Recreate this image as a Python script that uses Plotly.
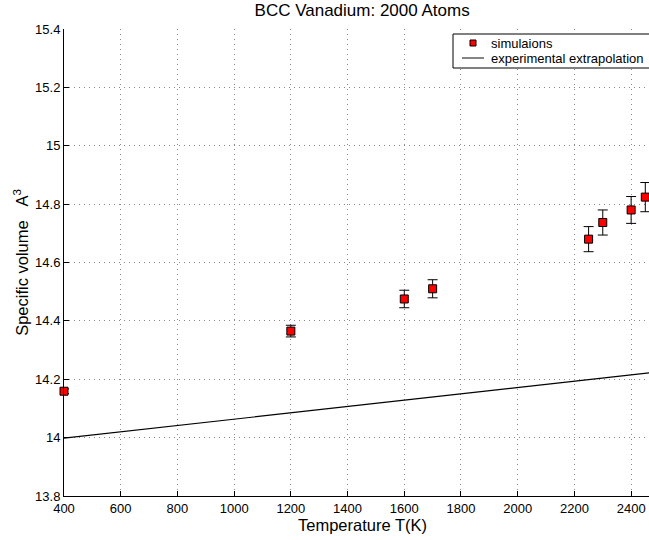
import plotly.graph_objects as go

# Simulated specific volume of BCC vanadium (2000 atoms) vs temperature
sim_T = [400, 1200, 1600, 1700, 2250, 2300, 2400, 2450]
sim_V = [14.159, 14.365, 14.475, 14.510, 14.680, 14.737, 14.780, 14.824]
sim_err = [0.008, 0.020, 0.030, 0.031, 0.043, 0.043, 0.046, 0.050]

# Experimental extrapolation (linear)
exp_T = [400, 2600]
exp_V = [13.998, 14.237]

x_ticks = [400, 600, 800, 1000, 1200, 1400, 1600, 1800, 2000, 2200, 2400]
y_ticks = [13.8, 14.0, 14.2, 14.4, 14.6, 14.8, 15.0, 15.2, 15.4]
y_ticktext = ["13.8", "14", "14.2", "14.4", "14.6", "14.8", "15", "15.2", "15.4"]

SIM_NAME = "simulaions"
EXP_NAME = "experimental extrapolation"

FONT = "Liberation Sans, Arial, Helvetica, sans-serif"
W, H = 649, 540
ML, MR, MT, MB = 64, 0, 29, 44
PW, PH = W - ML - MR, H - MT - MB


def px(xp):
    return (xp - ML) / PW


def py(yp):
    return (H - MB - yp) / PH


fig = go.Figure()

fig.add_trace(go.Scatter(
    x=sim_T, y=sim_V, mode="markers", name=SIM_NAME,
    marker=dict(symbol="square", size=8, color="#ff0000",
                line=dict(color="black", width=1)),
    error_y=dict(type="data", array=sim_err, visible=True,
                 color="black", thickness=1, width=5),
    cliponaxis=False,
))

fig.add_trace(go.Scatter(
    x=exp_T, y=exp_V, mode="lines", name=EXP_NAME,
    line=dict(color="black", width=1.2),
))

# Compact boxed legend in the upper right corner
shapes = [
    dict(type="rect", xref="paper", yref="paper",
         x0=px(453), x1=px(652), y0=py(68), y1=py(34),
         fillcolor="white", line=dict(color="black", width=1)),
    dict(type="rect", xref="paper", yref="paper",
         x0=px(470), x1=px(476), y0=py(46), y1=py(40),
         fillcolor="#ff0000", line=dict(color="black", width=1)),
    dict(type="line", xref="paper", yref="paper",
         x0=px(462), x1=px(484), y0=py(58), y1=py(58),
         line=dict(color="#333333", width=1.2)),
]
annotations = [
    dict(text=SIM_NAME, xref="paper", yref="paper", x=px(489), y=py(43),
         xanchor="left", yanchor="middle", showarrow=False,
         font=dict(size=13)),
    dict(text=EXP_NAME, xref="paper", yref="paper", x=px(489), y=py(58),
         xanchor="left", yanchor="middle", showarrow=False,
         font=dict(size=13)),
    # x-axis label, centred on the full temperature axis (400-2500 K)
    dict(text="Temperature T(K)", xref="paper", yref="paper", x=px(362),
         y=py(525), xanchor="center", yanchor="middle", showarrow=False,
         font=dict(size=16.5)),
]

fig.update_layout(
    width=W, height=H,
    margin=dict(l=ML, r=MR, t=MT, b=MB),
    paper_bgcolor="white", plot_bgcolor="white",
    font=dict(family=FONT, size=13, color="black"),
    title=dict(text="BCC Vanadium: 2000 Atoms", x=0.558, xanchor="center",
               y=1 - 10 / H, yanchor="middle", yref="container",
               font=dict(size=17)),
    showlegend=False,
    shapes=shapes,
    annotations=annotations,
)

grid_style = dict(showgrid=True, gridcolor="#8a8a8a", griddash="1px,4px", gridwidth=1)

fig.update_xaxes(
    range=[400, 2463], tickvals=x_ticks, ticks="inside", ticklen=5,
    tickcolor="black", showline=True, linecolor="black", linewidth=1,
    zeroline=False, mirror=False, **grid_style,
    tickfont=dict(size=13),
)
fig.update_yaxes(
    range=[13.8, 15.4], tickvals=y_ticks, ticktext=y_ticktext,
    ticks="inside", ticklen=5, tickcolor="black",
    showline=True, linecolor="black", linewidth=1,
    zeroline=False, mirror=False, **grid_style,
    title=dict(text="Specific volume&nbsp;&nbsp;&nbsp;A<sup>3</sup>", standoff=2,
               font=dict(size=16.5)),
    tickfont=dict(size=13),
)

fig.write_html("out.html")
